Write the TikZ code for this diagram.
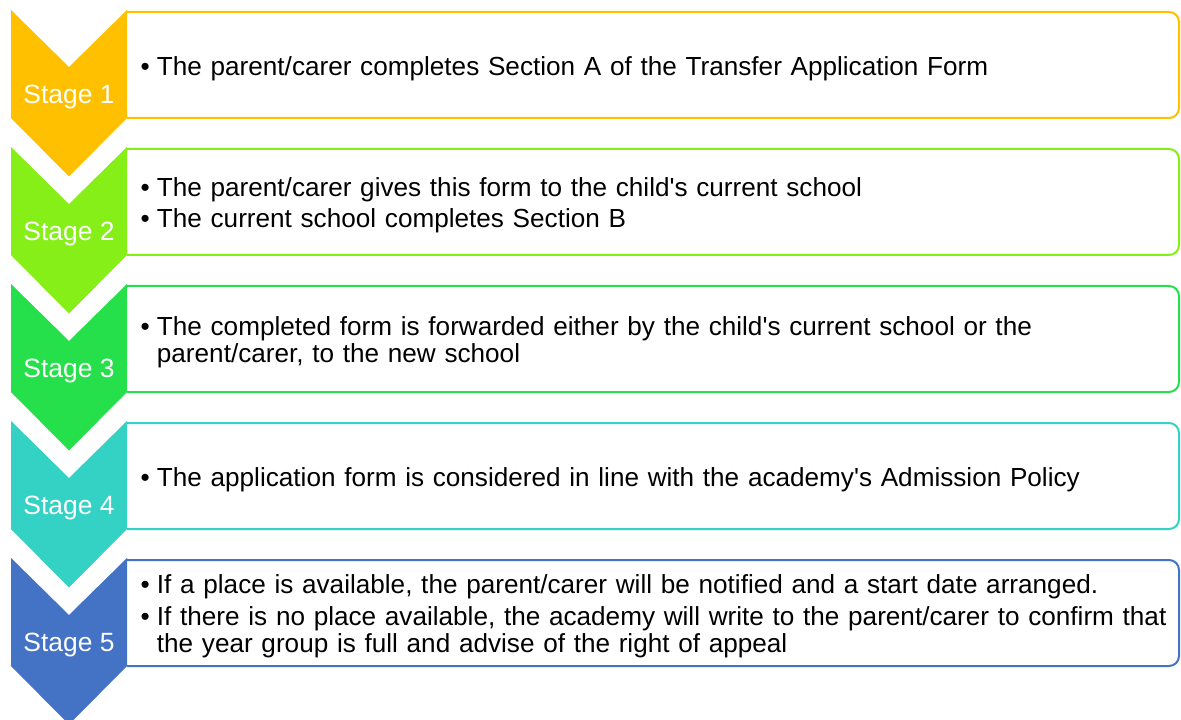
\documentclass[tikz,border=0pt]{standalone}
\usepackage{fontspec}
\setmainfont{Liberation Sans}
\definecolor{cA}{HTML}{FFC000}
\definecolor{cB}{HTML}{86EF18}
\definecolor{cC}{HTML}{25E04A}
\definecolor{cD}{HTML}{34D2C4}
\definecolor{cE}{HTML}{4472C4}
\tikzset{
  chev/.style={fill=#1, draw=none},
  frame/.style={draw=#1, line width=1.5pt, rounded corners=7.5pt},
  stagelabel/.style={anchor=base, text=white, inner sep=0pt, font=\fontsize{19.8}{24}\selectfont},
  body/.style={anchor=west, inner sep=0pt, text width=800pt, font=\fontsize{19.6}{20.6}\selectfont, yshift=2pt},
}
\newcommand\stagebullet{\par\noindent\hangindent=12.2pt\hangafter=1\makebox[12.2pt][l]{\textbullet}}
\begin{document}
\begin{tikzpicture}[x=0.75pt,y=-0.75pt]
\clip (0,0) rectangle (1181,720);
\fill[white] (0,0) rectangle (1181,720);
\foreach \i/\c/\n in {0/cA/1,1/cB/2,2/cC/3,3/cD/4,4/cE/5}{
  \begin{scope}[shift={(0,137*\i)}]
    \draw[frame=\c] (127,12) -- (1179,12) -- (1179,118) -- (127,118);
    \fill[chev=\c] (11,10) -- (69,67) -- (127,10) -- (127,118) -- (69,176.5) -- (11,118) -- cycle;
    \node[stagelabel] (s\n) at (69,103.5) {Stage \n};
  \end{scope}
}
\node[body] (t1) at (140.4,65) {\parskip=2.8pt
  \stagebullet The parent/carer completes Section A of the Transfer Application Form\par};
\node[body] (t2) at (140.4,202) {\parskip=2.8pt
  \stagebullet The parent/carer gives this form to the child\textquotesingle s current school
  \stagebullet The current school completes Section B\par};
\node[body] (t3) at (140.4,339) {\parskip=2.8pt
  \stagebullet The completed form is forwarded either by the child\textquotesingle s current school or the\newline parent/carer, to the new school\par};
\node[body] (t4) at (140.4,476) {\parskip=2.8pt
  \stagebullet The application form is considered in line with the academy\textquotesingle s Admission Policy\par};
\node[body] (t5) at (140.4,613) {\parskip=2.8pt
  \stagebullet If a place is available, the parent/carer will be notified and a start date arranged.
  \stagebullet If there is no place available, the academy will write to the parent/carer to confirm that\newline the year group is full and advise of the right of appeal\par};
\end{tikzpicture}
\end{document}
